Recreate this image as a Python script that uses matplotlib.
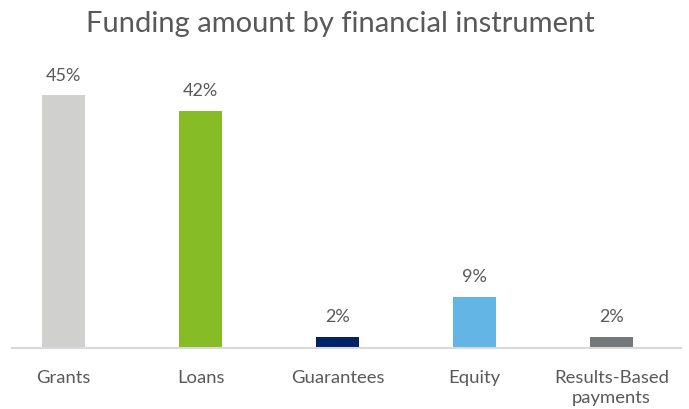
import matplotlib
matplotlib.use("Agg")
import matplotlib.pyplot as plt

# chart data
categories = ["Grants", "Loans", "Guarantees", "Equity", "Results-Based\npayments"]
shares = [45, 42.2, 2.0, 9.1, 2.0]
bar_colors = ["#D0D0CE", "#86BC25", "#012169", "#62B5E5", "#75787B"]

plt.rcParams['font.family'] = ['Lato', 'DejaVu Sans']
text_gray = "#595959"

fig = plt.figure(figsize=(6.89, 4.10), dpi=100)
ax = fig.add_axes([12 / 689, 1 - 349 / 410, 669 / 689, 281 / 410])

x = list(range(len(categories)))
bars = ax.bar(x, shares, width=0.31, color=bar_colors)

# value labels above the bars
for rect, v in zip(bars, shares):
    ax.annotate(f"{v:.0f}%", (rect.get_x() + rect.get_width() / 2, v),
                xytext=(0, 9), textcoords="offset points",
                ha="center", va="bottom", fontsize=13, color=text_gray)

ax.set_xlim(-0.376, 4.507)
ax.set_ylim(0, 50)
ax.set_xticks(x)
ax.set_xticklabels(categories, fontsize=13.3, color=text_gray, linespacing=1.3)
ax.tick_params(axis="x", length=0, pad=15)
ax.set_yticks([])

for side in ["top", "right", "left"]:
    ax.spines[side].set_visible(False)
ax.spines["bottom"].set_color("#D9D9D9")
ax.spines["bottom"].set_linewidth(1.5)

fig.text(340 / 689, 1 - 24 / 410, "Funding amount by financial instrument",
         ha="center", va="center", fontsize=21, color=text_gray)

fig.savefig("out.png", dpi=100)
